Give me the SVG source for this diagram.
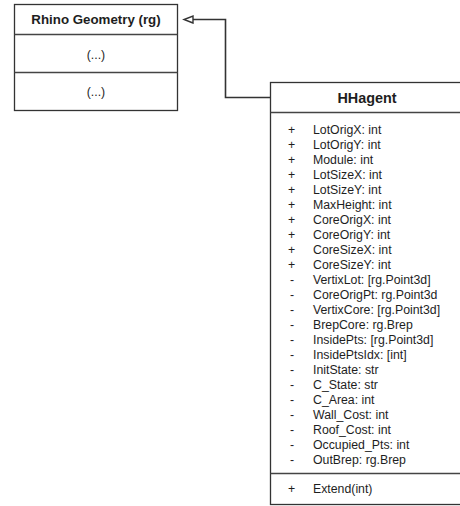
<svg xmlns="http://www.w3.org/2000/svg" width="460" height="506" viewBox="0 0 460 506">
<style>
.box{fill:#fff;stroke:#333;stroke-width:1.3}
.ln{stroke:#444;stroke-width:1.3;fill:none}
.cn{stroke:#333;stroke-width:1.6;fill:none}
.t{font-family:"Liberation Sans",Arial,sans-serif;fill:#1e1e1e}
.title{font-weight:bold;text-anchor:middle}
.f{font-size:12.3px}
.c{text-anchor:middle}
</style>
<defs>
<marker id="tri" markerWidth="12" markerHeight="10" refX="0.5" refY="4" orient="auto" markerUnits="userSpaceOnUse">
<path d="M0.5,0.5 L9.5,4 L0.5,7.5 Z" fill="#fff" stroke="#333" stroke-width="1.4"/>
</marker>
</defs>
<rect width="460" height="506" fill="#fff"/>
<g id="connectors">
<path class="cn" d="M270,97.5 H225.5 V19.5 H193" marker-end="url(#tri)"/>
</g>
<g id="rhino">
<rect class="box" x="14.5" y="4.5" width="163" height="106"/>
<line class="ln" x1="14.5" y1="34.5" x2="177.5" y2="34.5"/>
<line class="ln" x1="14.5" y1="72.5" x2="177.5" y2="72.5"/>
<text class="t title" x="96" y="24" font-size="13.3">Rhino Geometry (rg)</text>
<text class="t c" x="96" y="59" font-size="12.3">(...)</text>
<text class="t c" x="96" y="96" font-size="12.3">(...)</text>
</g>
<g id="hhagent">
<rect class="box" x="270.5" y="82.5" width="195" height="422"/>
<line class="ln" x1="270.5" y1="112.5" x2="466" y2="112.5"/>
<line class="ln" x1="270.5" y1="473.5" x2="466" y2="473.5"/>
<text class="t title" x="367" y="103" font-size="14.4">HHagent</text>
<g class="t f">
<text x="288" y="133.5">+</text><text x="313" y="133.5">LotOrigX: int</text>
<text x="288" y="148.5">+</text><text x="313" y="148.5">LotOrigY: int</text>
<text x="288" y="163.5">+</text><text x="313" y="163.5">Module: int</text>
<text x="288" y="178.5">+</text><text x="313" y="178.5">LotSizeX: int</text>
<text x="288" y="193.5">+</text><text x="313" y="193.5">LotSizeY: int</text>
<text x="288" y="208.5">+</text><text x="313" y="208.5">MaxHeight: int</text>
<text x="288" y="223.5">+</text><text x="313" y="223.5">CoreOrigX: int</text>
<text x="288" y="238.5">+</text><text x="313" y="238.5">CoreOrigY: int</text>
<text x="288" y="253.5">+</text><text x="313" y="253.5">CoreSizeX: int</text>
<text x="288" y="268.5">+</text><text x="313" y="268.5">CoreSizeY: int</text>
<text x="290" y="283.5">-</text><text x="313" y="283.5">VertixLot: [rg.Point3d]</text>
<text x="290" y="298.5">-</text><text x="313" y="298.5">CoreOrigPt: rg.Point3d</text>
<text x="290" y="313.5">-</text><text x="313" y="313.5">VertixCore: [rg.Point3d]</text>
<text x="290" y="328.5">-</text><text x="313" y="328.5">BrepCore: rg.Brep</text>
<text x="290" y="343.5">-</text><text x="313" y="343.5">InsidePts: [rg.Point3d]</text>
<text x="290" y="358.5">-</text><text x="313" y="358.5">InsidePtsIdx: [int]</text>
<text x="290" y="373.5">-</text><text x="313" y="373.5">InitState: str</text>
<text x="290" y="388.5">-</text><text x="313" y="388.5">C_State: str</text>
<text x="290" y="403.5">-</text><text x="313" y="403.5">C_Area: int</text>
<text x="290" y="418.5">-</text><text x="313" y="418.5">Wall_Cost: int</text>
<text x="290" y="433.5">-</text><text x="313" y="433.5">Roof_Cost: int</text>
<text x="290" y="448.5">-</text><text x="313" y="448.5">Occupied_Pts: int</text>
<text x="290" y="463.5">-</text><text x="313" y="463.5">OutBrep: rg.Brep</text>
<text x="288" y="493">+</text><text x="313" y="493">Extend(int)</text>
</g>
</g>
</svg>
